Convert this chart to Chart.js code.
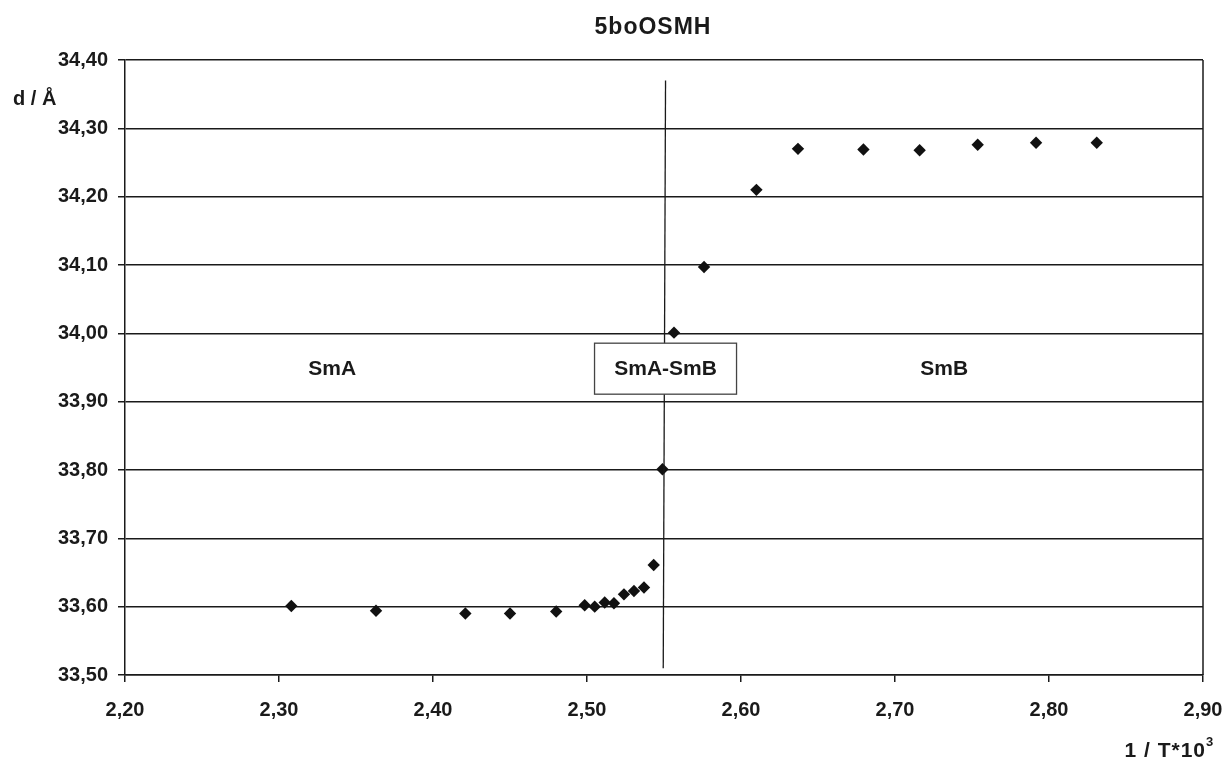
<!DOCTYPE html>
<html>
<head>
<meta charset="utf-8">
<script src="https://cdn.jsdelivr.net/npm/chart.js@4.4.0/dist/chart.umd.min.js"></script>
<style>
  html, body { margin: 0; padding: 0; background: #fff; }
  #wrap { width: 1230px; height: 759px; }
</style>
</head>
<body>
<div id="wrap"><canvas id="chart" width="1230" height="759"></canvas></div>
<script>
// 1/T*10^3 values and layer spacing d
const invT = [2.308, 2.363, 2.421, 2.450, 2.480, 2.4985, 2.505, 2.5115, 2.5175, 2.524, 2.5305, 2.537, 2.5433, 2.549,
              2.5565, 2.576, 2.610, 2.637, 2.6795, 2.716, 2.7537, 2.7916, 2.831];
const dSpacing = [33.601, 33.594, 33.590, 33.590, 33.593, 33.602, 33.600, 33.606, 33.605, 33.618, 33.623, 33.628, 33.661, 33.801,
                  34.001, 34.097, 34.210, 34.270, 34.269, 34.268, 34.276, 34.279, 34.279];

// phase boundary line
const boundaryX = [2.551, 2.5495];
const boundaryY = [34.37, 33.51];

// phase labels (x, y in data units)
const phaseNames = ["SmA", "SmA-SmB", "SmB"];
const phaseX = [2.3345, 2.551, 2.732];
const phaseY = [33.949, 33.949, 33.949];

const font = "'Liberation Sans', Arial, sans-serif";
const fmt = v => v.toFixed(2).replace(".", ",");

const points = invT.map((x, i) => ({ x: x, y: dSpacing[i] }));
const boundary = boundaryX.map((x, i) => ({ x: x, y: boundaryY[i] }));

const decor = {
    id: "decor",
    beforeDatasetsDraw(chart) {
        const { ctx, chartArea: a } = chart;
        ctx.save();
        ctx.strokeStyle = "#1a1a1a";
        ctx.lineWidth = 1.5;
        ctx.beginPath();
        ctx.moveTo(a.right, a.top);
        ctx.lineTo(a.right, a.bottom);
        ctx.stroke();
        ctx.restore();
    },
    afterDatasetsDraw(chart) {
        const { ctx, scales: { x, y } } = chart;
        ctx.save();
        ctx.fillStyle = "#1a1a1a";
        ctx.font = "bold 21px " + font;
        ctx.textAlign = "center";
        ctx.textBaseline = "middle";
        phaseNames.forEach((name, i) => {
            const px = x.getPixelForValue(phaseX[i]);
            const py = y.getPixelForValue(phaseY[i]);
            if (name === "SmA-SmB") {
                ctx.fillStyle = "#fff";
                ctx.fillRect(px - 71, py - 25, 142, 51);
                ctx.strokeStyle = "#444";
                ctx.lineWidth = 1.3;
                ctx.strokeRect(px - 71, py - 25, 142, 51);
                ctx.fillStyle = "#1a1a1a";
            }
            ctx.fillText(name, px, py + 1);
        });
        ctx.restore();
    },
    afterDraw(chart) {
        const { ctx } = chart;
        ctx.save();
        ctx.fillStyle = "#1a1a1a";
        ctx.textBaseline = "middle";
        ctx.font = "bold 23px " + font;
        ctx.letterSpacing = "1px";
        ctx.textAlign = "center";
        ctx.fillText("5boOSMH", 653, 28);
        ctx.letterSpacing = "0px";
        ctx.font = "bold 20px " + font;
        ctx.textAlign = "left";
        ctx.fillText("d / Å", 13, 99);
        // x-axis title with superscript
        ctx.font = "bold 21px " + font;
        ctx.letterSpacing = "1px";
        const base = "1 / T*10";
        const w = ctx.measureText(base).width;
        const sx = 1206 - w;
        ctx.fillText(base, sx, 751);
        ctx.letterSpacing = "0px";
        ctx.font = "bold 13px " + font;
        ctx.fillText("3", sx + w, 742);
        ctx.restore();
    }
};

new Chart(document.getElementById("chart"), {
    type: "scatter",
    data: {
        datasets: [{
            data: boundary,
            showLine: true,
            borderColor: "#1a1a1a",
            borderWidth: 1.3,
            pointRadius: 0
        }, {
            data: points,
            backgroundColor: "#111",
            borderColor: "#111",
            pointStyle: "rectRot",
            pointRadius: 6.2,
            borderWidth: 0
        }]
    },
    plugins: [decor],
    options: {
        responsive: false,
        animation: false,
        layout: { padding: { top: 60, right: 27, left: 0, bottom: 0 } },
        plugins: { legend: { display: false }, tooltip: { enabled: false } },
        scales: {
            x: {
                min: 2.2, max: 2.9,
                afterFit: s => { s.height = 84; s.paddingLeft = 0; s.paddingRight = 0; },
                ticks: { stepSize: 0.1, color: "#1a1a1a", font: { family: font, size: 20, weight: "bold" },
                    padding: 16, maxRotation: 0, callback: v => fmt(v) },
                grid: { drawOnChartArea: false, color: "#1a1a1a", lineWidth: 1.5, tickLength: 7 },
                border: { color: "#1a1a1a", width: 1.5 }
            },
            y: {
                min: 33.5, max: 34.4,
                afterFit: s => { s.width = 125; s.paddingTop = 0; s.paddingBottom = 0; },
                ticks: { stepSize: 0.1, color: "#1a1a1a", font: { family: font, size: 20, weight: "bold" },
                    padding: 10, callback: v => fmt(v) },
                grid: { color: "#1a1a1a", lineWidth: 1.5, tickLength: 7 },
                border: { color: "#1a1a1a", width: 1.5 }
            }
        }
    }
});
</script>
</body>
</html>
